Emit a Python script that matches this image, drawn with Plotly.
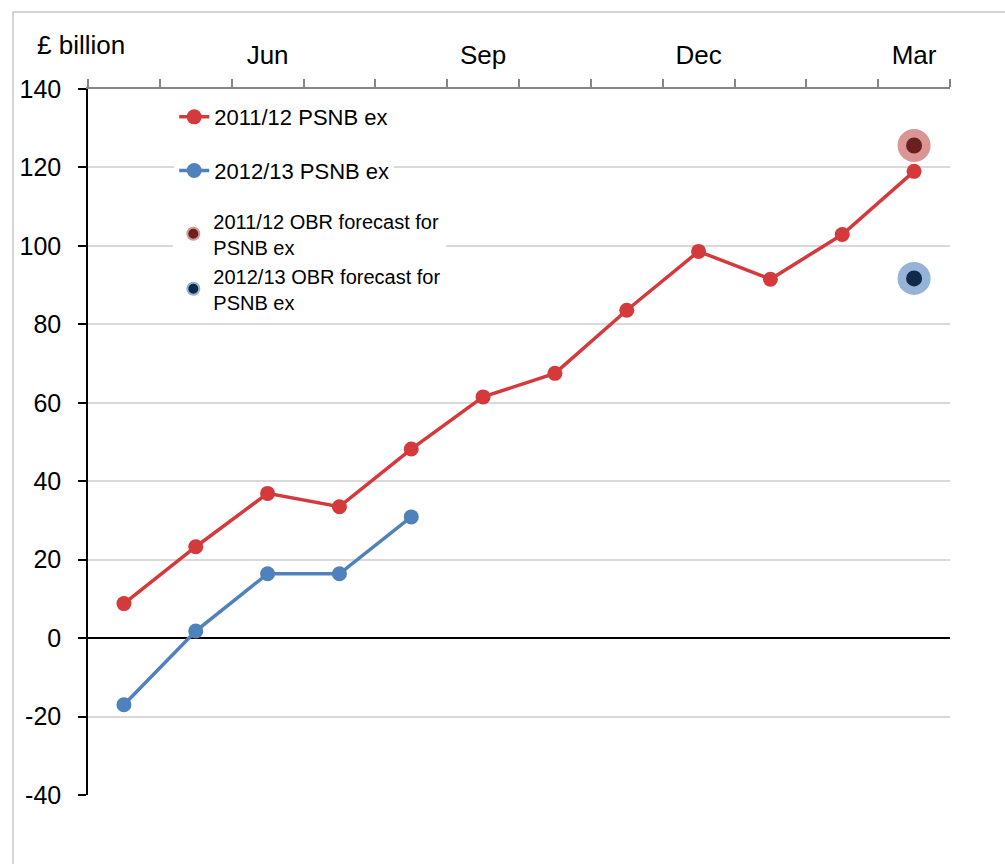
import plotly.graph_objects as go

months = ["Apr", "May", "Jun", "Jul", "Aug", "Sep", "Oct", "Nov", "Dec", "Jan", "Feb", "Mar"]
psnb_1112 = [8.8, 23.3, 36.9, 33.5, 48.2, 61.5, 67.5, 83.6, 98.6, 91.5, 102.9, 119.0]
psnb_1213 = [-17.0, 1.8, 16.4, 16.4, 30.9]
fc_1112 = 125.6
fc_1213 = 91.7
label_months = ["Jun", "Sep", "Dec", "Mar"]
y_ticks = [-40, -20, 0, 20, 40, 60, 80, 100, 120, 140]
y_ticktext = [str(v) for v in y_ticks]

idx = list(range(len(months)))
FONT = "Liberation Sans, Arial, sans-serif"
RED = "#D43A3C"
BLUE = "#4F81BD"

fig = go.Figure()
fig.add_trace(go.Scatter(
    x=idx, y=psnb_1112, mode="lines+markers", name="2011/12 PSNB ex",
    line=dict(color=RED, width=3.5), marker=dict(color=RED, size=15),
    legend="legend", legendgroup="a"))
fig.add_trace(go.Scatter(
    x=idx[:len(psnb_1213)], y=psnb_1213, mode="lines+markers", name="2012/13 PSNB ex",
    line=dict(color=BLUE, width=3.5), marker=dict(color=BLUE, size=15),
    legend="legend", legendgroup="b"))
fig.add_trace(go.Scatter(
    x=[idx[-1]], y=[fc_1112], mode="markers", name="2011/12 OBR forecast for<br>PSNB ex",
    marker=dict(color="#6B2020", size=24.5, line=dict(color="#DA9694", width=8.5)),
    legend="legend2", legendgroup="c"))
fig.add_trace(go.Scatter(
    x=[idx[-1]], y=[fc_1213], mode="markers", name="2012/13 OBR forecast for<br>PSNB ex",
    marker=dict(color="#102A4C", size=24.5, line=dict(color="#95B3D7", width=8.5)),
    legend="legend2", legendgroup="d"))

# invisible trace to activate the boundary-tick axis
fig.add_trace(go.Scatter(x=[idx[0]], y=[0], xaxis="x2", mode="markers",
                         marker=dict(opacity=0), showlegend=False, hoverinfo="skip"))

label_pos = [months.index(m) for m in label_months]
bounds = [i - 0.5 for i in range(len(months) + 1)]

fig.update_layout(
    width=1005, height=864,
    margin=dict(l=88, r=55, t=89, b=69),
    paper_bgcolor="white", plot_bgcolor="white",
    font=dict(family=FONT, size=26, color="#000000"),
    showlegend=True,
    xaxis=dict(
        range=[-0.5, len(months) - 0.5], side="top",
        tickmode="array", tickvals=label_pos, ticktext=label_months,
        ticks="", showgrid=False, zeroline=False, showline=False,
        ticklabelstandoff=19, tickfont=dict(size=26),
    ),
    xaxis2=dict(
        range=[-0.5, len(months) - 0.5], overlaying="x", side="top",
        tickmode="array", tickvals=bounds, ticks="outside", ticklen=8,
        tickcolor="#868686", tickwidth=1.5, showticklabels=False,
        showline=True, linecolor="#868686", linewidth=1.5,
        showgrid=False, zeroline=False,
    ),
    yaxis=dict(
        range=[-40, 140], tickmode="array", tickvals=y_ticks, ticktext=y_ticktext,
        ticks="outside", ticklen=8, tickcolor="#000000", tickwidth=1.5,
        showline=True, linecolor="#000000", linewidth=1.5,
        showgrid=True, gridcolor="#D9D9D9", gridwidth=1.5,
        zeroline=True, zerolinecolor="#000000", zerolinewidth=1.5,
        tickfont=dict(size=25), ticklabelstandoff=12,
    ),
    legend=dict(
        x=0.1, y=0.99, xanchor="left", yanchor="top",
        bgcolor="white", font=dict(size=22), tracegroupgap=22,
        traceorder="grouped",
    ),
    legend2=dict(
        x=0.099, y=0.841, xanchor="left", yanchor="top",
        bgcolor="white", font=dict(size=20), tracegroupgap=0,
        traceorder="grouped", itemsizing="constant",
    ),
    annotations=[dict(
        text="£ billion", xref="paper", yref="paper",
        x=-0.062, y=1.062, xanchor="left", yanchor="middle",
        showarrow=False, font=dict(size=26),
    )],
    shapes=[dict(
        type="rect", xref="paper", yref="paper",
        x0=-0.087, y0=-0.3, x1=1.2, y1=1.109,
        line=dict(color="#C8C8C8", width=1.5), layer="below",
        fillcolor="rgba(0,0,0,0)",
    )],
)

fig.write_html("out.html")
